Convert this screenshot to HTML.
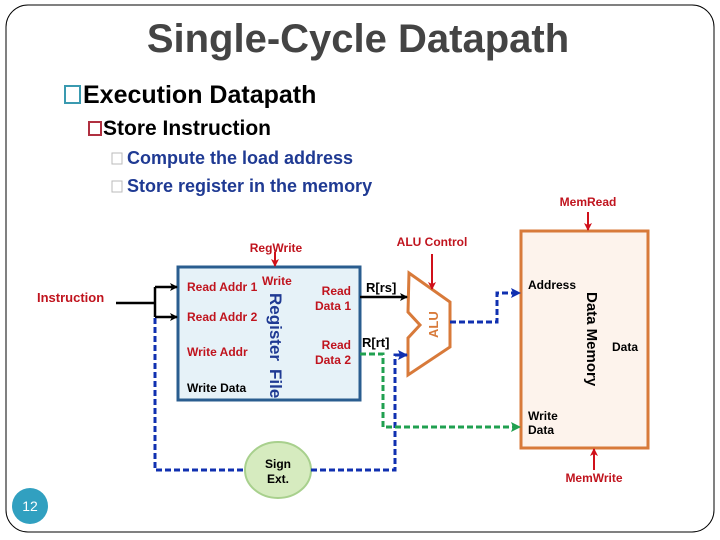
<!DOCTYPE html>
<html><head><meta charset="utf-8"><style>
body{margin:0;background:#fff}
svg{display:block}
text{font-family:"Liberation Sans",sans-serif}
</style></head><body>
<svg width="720" height="540" viewBox="0 0 720 540" xmlns="http://www.w3.org/2000/svg">
<defs>
<marker id="ab" markerWidth="8" markerHeight="8" refX="7" refY="4" orient="auto" markerUnits="userSpaceOnUse"><path d="M0,0 L8,4 L0,8 L2,4z" fill="#000"/></marker>
<marker id="ar" markerWidth="8" markerHeight="8" refX="7" refY="4" orient="auto" markerUnits="userSpaceOnUse"><path d="M0,0 L8,4 L0,8 L2,4z" fill="#d0101a"/></marker>
<marker id="abl" markerWidth="10" markerHeight="10" refX="9" refY="5" orient="auto" markerUnits="userSpaceOnUse"><path d="M0,0 L10,5 L0,10 L2,5z" fill="#1030b0"/></marker>
<marker id="ag" markerWidth="10" markerHeight="10" refX="9" refY="5" orient="auto" markerUnits="userSpaceOnUse"><path d="M0,0 L10,5 L0,10 L2,5z" fill="#20a050"/></marker>
</defs>
<rect x="6" y="5" width="708" height="527" rx="22" fill="none" stroke="#000" stroke-width="1"/>
<text x="358" y="52" font-size="40" font-weight="bold" fill="#444" text-anchor="middle" font-family="DejaVu Sans,sans-serif">Single-Cycle Datapath</text>
<rect x="65" y="86" width="15" height="17" fill="none" stroke="#3a9ab0" stroke-width="2"/>
<text x="83" y="103" font-size="25" font-weight="bold">Execution Datapath</text>
<rect x="89" y="122" width="12" height="13" fill="none" stroke="#b03040" stroke-width="2"/>
<text x="103" y="135" font-size="21" font-weight="bold">Store Instruction</text>
<rect x="112" y="153" width="10" height="11" fill="none" stroke="#bbb" stroke-width="1"/>
<text x="127" y="164" font-size="18" font-weight="bold" fill="#1f3a93">Compute the load address</text>
<rect x="112" y="181" width="10" height="11" fill="none" stroke="#bbb" stroke-width="1"/>
<text x="127" y="192" font-size="18" font-weight="bold" fill="#1f3a93">Store register in the memory</text>

<!-- register file -->
<rect x="178" y="267" width="182" height="133" fill="#e6f2f8" stroke="#2a5d8f" stroke-width="3"/>
<g font-size="12" font-weight="bold" fill="#c0141e">
<text x="187" y="291">Read Addr 1</text>
<text x="187" y="321">Read Addr 2</text>
<text x="187" y="356">Write Addr</text>
<text x="262" y="285">Write</text>
<text x="351" y="295" text-anchor="end">Read</text>
<text x="351" y="310" text-anchor="end">Data 1</text>
<text x="351" y="349" text-anchor="end">Read</text>
<text x="351" y="364" text-anchor="end">Data 2</text>
<text x="276" y="252" text-anchor="middle">RegWrite</text>
<text x="432" y="246" text-anchor="middle">ALU Control</text>
<text x="588" y="206" text-anchor="middle">MemRead</text>
<text x="594" y="482" text-anchor="middle">MemWrite</text>
</g>
<text x="187" y="392" font-size="12" font-weight="bold">Write Data</text>
<text transform="translate(270,293) rotate(90)" font-size="17" font-weight="bold" fill="#1f3a93">Register</text>
<text transform="translate(270,369) rotate(90)" font-size="17" font-weight="bold" fill="#1f3a93">File</text>
<text x="37" y="302" font-size="13" font-weight="bold" fill="#c0141e">Instruction</text>

<!-- ALU -->
<path d="M409,273 L450,302 L450,347 L408,375 L408,338 L420,325 L408,312 Z" fill="#fff" stroke="#d87a3a" stroke-width="3"/>
<text transform="translate(438,338) rotate(-90)" font-size="13" font-weight="bold" fill="#d87a3a">ALU</text>

<!-- memory -->
<rect x="521" y="231" width="127" height="217" fill="#fdf3ec" stroke="#d87a3a" stroke-width="3"/>
<text x="528" y="289" font-size="12" font-weight="bold">Address</text>
<text x="612" y="351" font-size="12" font-weight="bold">Data</text>
<text x="528" y="420" font-size="12" font-weight="bold">Write</text>
<text x="528" y="434" font-size="12" font-weight="bold">Data</text>
<text transform="translate(587,292) rotate(90)" font-size="15" font-weight="bold">Data Memory</text>

<!-- sign ext -->
<ellipse cx="278" cy="470" rx="33" ry="28" fill="#d6ebbf" stroke="#a8d08d" stroke-width="2"/>
<text x="278" y="468" font-size="12" font-weight="bold" text-anchor="middle">Sign</text>
<text x="278" y="483" font-size="12" font-weight="bold" text-anchor="middle">Ext.</text>

<!-- wires -->
<g stroke="#000" stroke-width="2.5" fill="none">
<path d="M116,303 H155"/>
<path d="M155,287 V317"/>
<path d="M155,287 H177" marker-end="url(#ab)"/>
<path d="M155,317 H177" marker-end="url(#ab)"/>
<path d="M360,297 H407" marker-end="url(#ab)"/>
</g>
<text x="366" y="292" font-size="13" font-weight="bold">R[rs]</text>
<text x="362" y="347" font-size="13" font-weight="bold">R[rt]</text>
<g stroke="#d0101a" stroke-width="2" fill="none">
<path d="M275,252 V266" marker-end="url(#ar)"/>
<path d="M432,254 V289" marker-end="url(#ar)"/>
<path d="M588,212 V230" marker-end="url(#ar)"/>
<path d="M594,470 V449" marker-end="url(#ar)"/>
</g>
<g stroke="#1030b0" stroke-width="3" fill="none" stroke-dasharray="6,3">
<path d="M155,318 V470 H245"/>
<path d="M311,470 H395 V355 H407" marker-end="url(#abl)"/>
<path d="M450,322 H497 V293 H520" marker-end="url(#abl)"/>
</g>
<g stroke="#20a050" stroke-width="3" fill="none" stroke-dasharray="6,3">
<path d="M360,354 H383 V427 H520" marker-end="url(#ag)"/>
</g>

<circle cx="30" cy="506" r="18" fill="#31a0c0"/>
<text x="30" y="511" font-size="14" fill="#fff" text-anchor="middle">12</text>
</svg>
</body></html>
